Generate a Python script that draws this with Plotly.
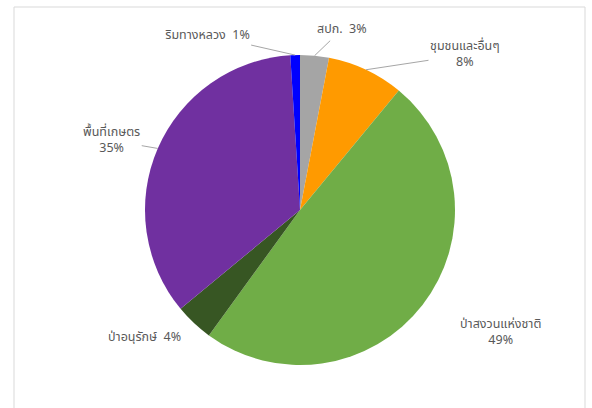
import math
import plotly.graph_objects as go

labels = ["สปก.", "ชุมชนและอื่นๆ", "ป่าสงวนแห่งชาติ", "ป่าอนุรักษ์", "พื้นที่เกษตร", "ริมทางหลวง"]
values = [3, 8, 49, 4, 35, 1]
colors = ["#a5a5a5", "#ff9a00", "#70ad47", "#375623", "#7030a0", "#0000ff"]
label_text = ["สปก.&nbsp;&nbsp;3%", "ชุมชนและอื่นๆ<br>8%", "ป่าสงวนแห่งชาติ<br>49%",
              "ป่าอนุรักษ์&nbsp;&nbsp;4%", "พื้นที่เกษตร<br>35%", "ริมทางหลวง&nbsp;&nbsp;1%"]

W, H = 592, 408
cx, cy, R = 300, 210, 155  # pie centre / radius in pixels

FONT = "Tahoma, 'Noto Sans Thai', 'Leelawadee UI', sans-serif"
FS = 12.5

fig = go.Figure(go.Pie(
    labels=labels, values=values, sort=False, direction="clockwise", rotation=0,
    marker=dict(colors=colors, line=dict(width=0)),
    textinfo="none", showlegend=False,
    domain=dict(x=[(cx - R) / W, (cx + R) / W], y=[1 - (cy + R) / H, 1 - (cy - R) / H]),
))

# label offsets (pixels) from the slice's outer edge point; flag = draw leader line
offsets = [(27, -26, True), (99, -15, True), (78, 27, False), (-49, 15, False), (-46, -8, True), (-88, -20, True)]

total = sum(values)
cum = 0
for i, v in enumerate(values):
    mid = (cum + v / 2) / total * 2 * math.pi
    cum += v
    ex = cx + R * math.sin(mid)
    ey = cy - R * math.cos(mid)
    ax, ay, arrow = offsets[i]
    if arrow:
        fig.add_annotation(x=ex / W, y=1 - ey / H, xref="paper", yref="paper",
                           text=label_text[i], showarrow=True, arrowhead=0, arrowwidth=1,
                           arrowcolor="#a6a6a6", ax=ax, ay=ay, standoff=0,
                           font=dict(family=FONT, size=FS, color="#595959"), align="center")
    else:
        fig.add_annotation(x=(ex + ax) / W, y=1 - (ey + ay) / H, xref="paper", yref="paper",
                           xanchor="center", yanchor="middle",
                           text=label_text[i], showarrow=False,
                           font=dict(family=FONT, size=FS, color="#595959"), align="center")

fig.add_shape(type="rect", xref="paper", yref="paper", x0=14 / W, x1=585 / W, y0=-0.05, y1=1 - 7 / H,
              line=dict(color="#d9d9d9", width=1), fillcolor="rgba(0,0,0,0)")

fig.update_layout(width=W, height=H, margin=dict(l=0, r=0, t=0, b=0),
                  paper_bgcolor="white", plot_bgcolor="white")
fig.write_html("out.html", config={"displayModeBar": False},
               post_script="document.body.style.margin='0';document.body.style.overflow='hidden';")
